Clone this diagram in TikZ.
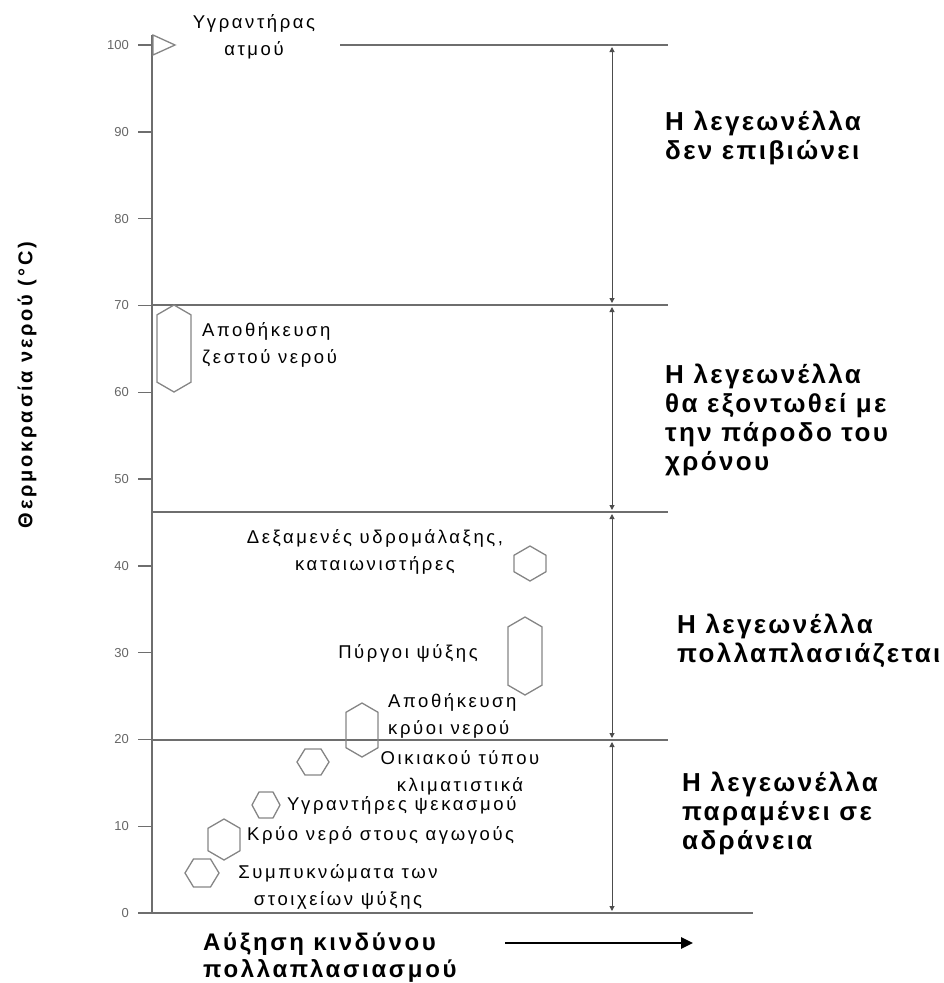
\documentclass[tikz,border=0pt]{standalone}
\usepackage{fontspec}
\setmainfont{Liberation Sans}
\newfontfamily\sitefont[LetterSpace=14]{Liberation Sans}
\newfontfamily\zonefont[LetterSpace=9]{Liberation Sans}
\newfontfamily\riskfont[LetterSpace=11]{Liberation Sans}
\newfontfamily\axisfont[LetterSpace=14]{Liberation Sans}
\usetikzlibrary{arrows.meta}

\definecolor{rulegray}{HTML}{6E6E6E}
\definecolor{cellgray}{HTML}{858585}
\definecolor{tickgray}{HTML}{666666}

% hexagon with pointed ends and upright sides: x, top, bottom, half width
\newcommand{\hexbar}[4]{%
  \draw[cell] (#1,#2) -- ({#1+#4},{#2+0.58*#4}) -- ({#1+#4},{#3-0.58*#4})
    -- (#1,#3) -- ({#1-#4},{#3-0.58*#4}) -- ({#1-#4},{#2+0.58*#4}) -- cycle;}
% hexagon lying flat: x, y, half width, half height
\newcommand{\hexdot}[4]{%
  \draw[cell] ({#1-#3},#2) -- ({#1-#3/2},{#2-#4}) -- ({#1+#3/2},{#2-#4})
    -- ({#1+#3},#2) -- ({#1+#3/2},{#2+#4}) -- ({#1-#3/2},{#2+#4}) -- cycle;}

\tikzset{
  level/.style={draw=rulegray, line width=1.6pt},
  axisline/.style={draw=rulegray, line width=1.4pt},
  span/.style={draw=black!70, line width=1pt,
    {Triangle[length=5pt,width=5pt]}-{Triangle[length=5pt,width=5pt]},
    shorten <=2pt, shorten >=2pt},
  cell/.style={draw=cellgray, line width=1.3pt},
  site/.style={font=\sitefont\fontsize{18.5}{27}\selectfont, inner sep=0pt},
  verdict/.style={font=\zonefont\bfseries\fontsize{26}{29}\selectfont,
    inner sep=0pt, anchor=west, align=left},
  tick/.style={font=\fontsize{13}{13}\selectfont, text=tickgray,
    anchor=east, inner sep=0pt}
}

\begin{document}
\begin{tikzpicture}[x=1pt, y=-1pt]
  \useasboundingbox (0,0) rectangle (943,983);

  % axis and scale
  \draw[axisline] (152,35) -- (152,913);
  \foreach \t in {0,10,...,100} {
    \draw[axisline] (138,{913-8.68*\t}) -- (152,{913-8.68*\t});
    \node[tick] (deg\t) at (129,{913-8.68*\t}) {\t};
  }
  \node[rotate=90, inner sep=0pt, font=\axisfont\bfseries\fontsize{20}{20}\selectfont]
    (temp) at (27,385) {Θερμοκρασία νερού (°C)};

  % zone limits
  \draw[level] (340,45) -- (668,45);
  \draw[level] (152,305) -- (668,305);
  \draw[level] (152,512) -- (668,512);
  \draw[level] (152,740) -- (668,740);
  \draw[level] (152,913) -- (753,913);

  \coordinate (z100) at (612,45);
  \coordinate (z70) at (612,305);
  \coordinate (z46) at (612,512);
  \coordinate (z20) at (612,740);
  \coordinate (z0) at (612,913);
  \draw[span] (z100) -- (z70);
  \draw[span] (z70) -- (z46);
  \draw[span] (z46) -- (z20);
  \draw[span] (z20) -- (z0);

  \node[verdict] (dies) at (665,138) {Η λεγεωνέλλα\\δεν επιβιώνει};
  \node[verdict] (killed) at (665,420) {Η λεγεωνέλλα\\θα εξοντωθεί με\\την πάροδο του\\χρόνου};
  \node[verdict] (grows) at (677,641) {Η λεγεωνέλλα\\πολλαπλασιάζεται};
  \node[verdict] (dormant) at (682,813) {Η λεγεωνέλλα\\παραμένει  σε\\αδράνεια};

  % sources
  \draw[cell] (153,35) -- (175,45) -- (153,55) -- cycle;
  \node[site, align=center] (steam) at (254,37) {Υγραντήρας\\ατμού};

  \hexbar{174}{305}{392}{17}
  \node[site, anchor=west, align=left] (hotstore) at (202,345) {Αποθήκευση\\ζεστού νερού};

  \hexbar{530}{546}{581}{16}
  \node[site, align=center] (tanks) at (375,552) {Δεξαμενές υδρομάλαξης,\\καταιωνιστήρες};

  \hexbar{525}{617}{695}{17}
  \node[site] (towers) at (408,653) {Πύργοι ψύξης};

  \hexbar{362}{703}{757}{16}
  \node[site, anchor=west, align=left] (coldstore) at (388,716) {Αποθήκευση\\κρύοι νερού};

  \hexdot{313}{762}{16}{13}
  \node[site, align=center] (aircon) at (460,773) {Οικιακού τύπου\\κλιματιστικά};

  \hexdot{266}{805}{14}{13}
  \node[site, anchor=west] (spray) at (287,805) {Υγραντήρες ψεκασμού};

  \hexbar{224}{819}{860}{16}
  \node[site, anchor=west] (coldpipe) at (247,835) {Κρύο νερό στους αγωγούς};

  \hexdot{202}{873}{17}{14}
  \node[site, align=center] (coils) at (338,887) {Συμπυκνώματα των\\στοιχείων ψύξης};

  % risk direction
  \node[verdict, anchor=west, font=\riskfont\bfseries\fontsize{24}{27}\selectfont]
    (risk) at (203,958) {Αύξηση κινδύνου\\πολλαπλασιασμού};
  \coordinate (r0) at (505,943);
  \coordinate (r1) at (693,943);
  \draw[line width=2.6pt, -{Triangle[length=12pt,width=11pt]}] (r0) -- (r1);
\end{tikzpicture}
\end{document}
